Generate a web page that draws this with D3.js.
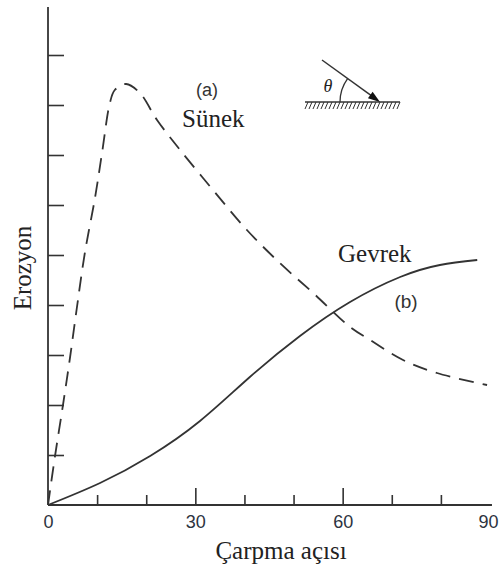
<!DOCTYPE html>
<html>
<head>
<meta charset="utf-8">
<script src="https://cdn.jsdelivr.net/npm/d3@7"></script>
<style>
    body { margin: 0; background: #fff; }
    svg { display: block; }
</style>
</head>
<body>
<svg id="chart"></svg>
<script>
// data (x: impact angle in degrees, y: erosion in tick units)
const ductileX = [0, 1.4, 3.05, 4.5, 5.9, 7.5, 9.6, 11.0, 12.6, 13.6, 15.9, 18.7, 22.2, 26.9, 33.6, 40.5, 47.2, 54.0, 61.5, 65.6, 72.3, 79.2, 89.4];
const ductileY = [0, 0.96, 2.0, 2.96, 3.96, 5.04, 6.16, 7.04, 8.04, 8.3, 8.42, 8.24, 7.7, 7.1, 6.3, 5.5, 4.84, 4.24, 3.56, 3.3, 2.9, 2.64, 2.4];
const brittleX = [0, 10.6, 20.8, 30.95, 41.1, 51.3, 61.5, 71.7, 79.8, 87.4];
const brittleY = [0, 0.44, 0.98, 1.68, 2.56, 3.38, 4.06, 4.56, 4.8, 4.9];
const yTicks = [1, 2, 3, 4, 5, 6, 7, 8, 9];
const xMinorTicks = [10, 20, 40, 50, 70, 80];
const xMajorTicks = [30, 60];
const xTickLabels = [0, 30, 60, 90];

const width = 499, height = 569;
const ink = "#333";

let svg = d3.select("#chart")
    .attr("width", width)
    .attr("height", height);

let x = d3.scaleLinear().domain([0, 90]).range([48, 490]);
let y = d3.scaleLinear().domain([0, 9.96]).range([505, 7]);

// axis lines
svg.append("line")
    .attr("x1", x(0)).attr("x2", x(0))
    .attr("y1", y(0)).attr("y2", y(9.96))
    .attr("stroke", ink).attr("stroke-width", 1.8);

svg.append("line")
    .attr("x1", x(0)).attr("x2", x(90.4))
    .attr("y1", y(0)).attr("y2", y(0))
    .attr("stroke", ink).attr("stroke-width", 1.8);

// y ticks point inward
svg.append("g")
    .attr("transform", `translate(${x(0)},0)`)
    .call(d3.axisLeft(y).tickValues(yTicks).tickSize(-16).tickFormat(""))
    .call(g => g.select(".domain").remove())
    .call(g => g.selectAll("line").attr("stroke", ink).attr("stroke-width", 1.6));

// x ticks, minor and major
svg.append("g")
    .attr("transform", `translate(0,${y(0)})`)
    .call(d3.axisBottom(x).tickValues(xMinorTicks).tickSize(-10).tickFormat(""))
    .call(g => g.select(".domain").remove())
    .call(g => g.selectAll("line").attr("stroke", ink).attr("stroke-width", 1.6));

svg.append("g")
    .attr("transform", `translate(0,${y(0)})`)
    .call(d3.axisBottom(x).tickValues(xMajorTicks).tickSize(-17).tickFormat(""))
    .call(g => g.select(".domain").remove())
    .call(g => g.selectAll("line").attr("stroke", ink).attr("stroke-width", 1.6));

// x tick labels
svg.append("g")
    .attr("transform", `translate(0,${y(0)})`)
    .call(d3.axisBottom(x).tickValues(xTickLabels).tickSize(0).tickPadding(10).tickFormat(d3.format("d")))
    .call(g => g.select(".domain").remove())
    .call(g => g.selectAll("text")
        .attr("fill", "#2d3340")
        .style("font-family", "'Liberation Sans', Arial, sans-serif")
        .style("font-size", "18px"))
    .call(g => g.selectAll(".tick").filter(d => d === 90).select("text")
        .attr("text-anchor", "end").attr("x", 498 - x(90)));

// curves
let dashedLine = d3.line()
    .x(d => x(d[0]))
    .y(d => y(d[1]))
    .curve(d3.curveCatmullRom.alpha(0.5));

let solidLine = d3.line()
    .x(d => x(d[0]))
    .y(d => y(d[1]))
    .curve(d3.curveNatural);

svg.append("path")
    .datum(d3.zip(ductileX, ductileY))
    .attr("d", dashedLine)
    .attr("fill", "none")
    .attr("stroke", ink)
    .attr("stroke-width", 1.8)
    .attr("stroke-dasharray", "15,9");

svg.append("path")
    .datum(d3.zip(brittleX, brittleY))
    .attr("d", solidLine)
    .attr("fill", "none")
    .attr("stroke", ink)
    .attr("stroke-width", 1.8);

// labels
const serif = "'Liberation Serif', 'Times New Roman', serif";
const sans = "'Liberation Sans', Arial, sans-serif";

svg.append("text")
    .attr("transform", "translate(31,268) rotate(-90)")
    .attr("text-anchor", "middle")
    .style("font-family", serif).style("font-size", "25px")
    .attr("fill", "#222")
    .text("Erozyon");

svg.append("text")
    .attr("x", 281).attr("y", 559)
    .attr("text-anchor", "middle")
    .style("font-family", serif).style("font-size", "25px")
    .attr("fill", "#222")
    .text("Çarpma açısı");

svg.append("text")
    .attr("x", 182).attr("y", 127)
    .style("font-family", serif).style("font-size", "25px")
    .attr("fill", "#222")
    .text("Sünek");

svg.append("text")
    .attr("x", 338).attr("y", 262)
    .style("font-family", serif).style("font-size", "25px")
    .attr("fill", "#222")
    .text("Gevrek");

svg.append("text")
    .attr("x", 207).attr("y", 96)
    .attr("text-anchor", "middle")
    .style("font-family", sans).style("font-size", "18px")
    .attr("fill", "#333")
    .text("(a)");

svg.append("text")
    .attr("x", 406).attr("y", 308)
    .attr("text-anchor", "middle")
    .style("font-family", sans).style("font-size", "19px")
    .attr("fill", "#333")
    .text("(b)");

// impact angle sketch
let inset = svg.append("g").attr("transform", "translate(305,102)");

inset.append("line")
    .attr("x1", 0).attr("x2", 95)
    .attr("y1", 0).attr("y2", 0)
    .attr("stroke", ink).attr("stroke-width", 1.6);

inset.selectAll(".hatch")
    .data(d3.range(0, 95, 4))
    .join("line")
    .attr("class", "hatch")
    .attr("x1", d => d).attr("x2", d => d + 3)
    .attr("y1", 7).attr("y2", 0)
    .attr("stroke", ink).attr("stroke-width", 1);

const tipX = 75, tipY = 0, startX = 17, startY = -42;
const ang = Math.atan2(startY - tipY, startX - tipX);

inset.append("line")
    .attr("x1", startX).attr("y1", startY)
    .attr("x2", tipX - 9 * Math.cos(ang + Math.PI)).attr("y2", tipY - 9 * Math.sin(ang + Math.PI))
    .attr("stroke", ink).attr("stroke-width", 1.5);

let dir = [Math.cos(ang + Math.PI), Math.sin(ang + Math.PI)];
let nrm = [-dir[1], dir[0]];
let base = [tipX - 12 * dir[0], tipY - 12 * dir[1]];
inset.append("path")
    .attr("d", `M${tipX},${tipY} L${base[0] + 4 * nrm[0]},${base[1] + 4 * nrm[1]} L${base[0] - 4 * nrm[0]},${base[1] - 4 * nrm[1]} Z`)
    .attr("fill", "#111");

const r = 40;
inset.append("path")
    .attr("d", `M${tipX - r},0 A${r},${r} 0 0 1 ${tipX + r * Math.cos(ang)},${r * Math.sin(ang)}`)
    .attr("fill", "none")
    .attr("stroke", ink).attr("stroke-width", 1.3);

inset.append("text")
    .attr("x", 23).attr("y", -10)
    .attr("text-anchor", "middle")
    .style("font-family", serif).style("font-size", "18px").style("font-style", "italic")
    .attr("fill", "#222")
    .text("θ");
</script>
</body>
</html>
